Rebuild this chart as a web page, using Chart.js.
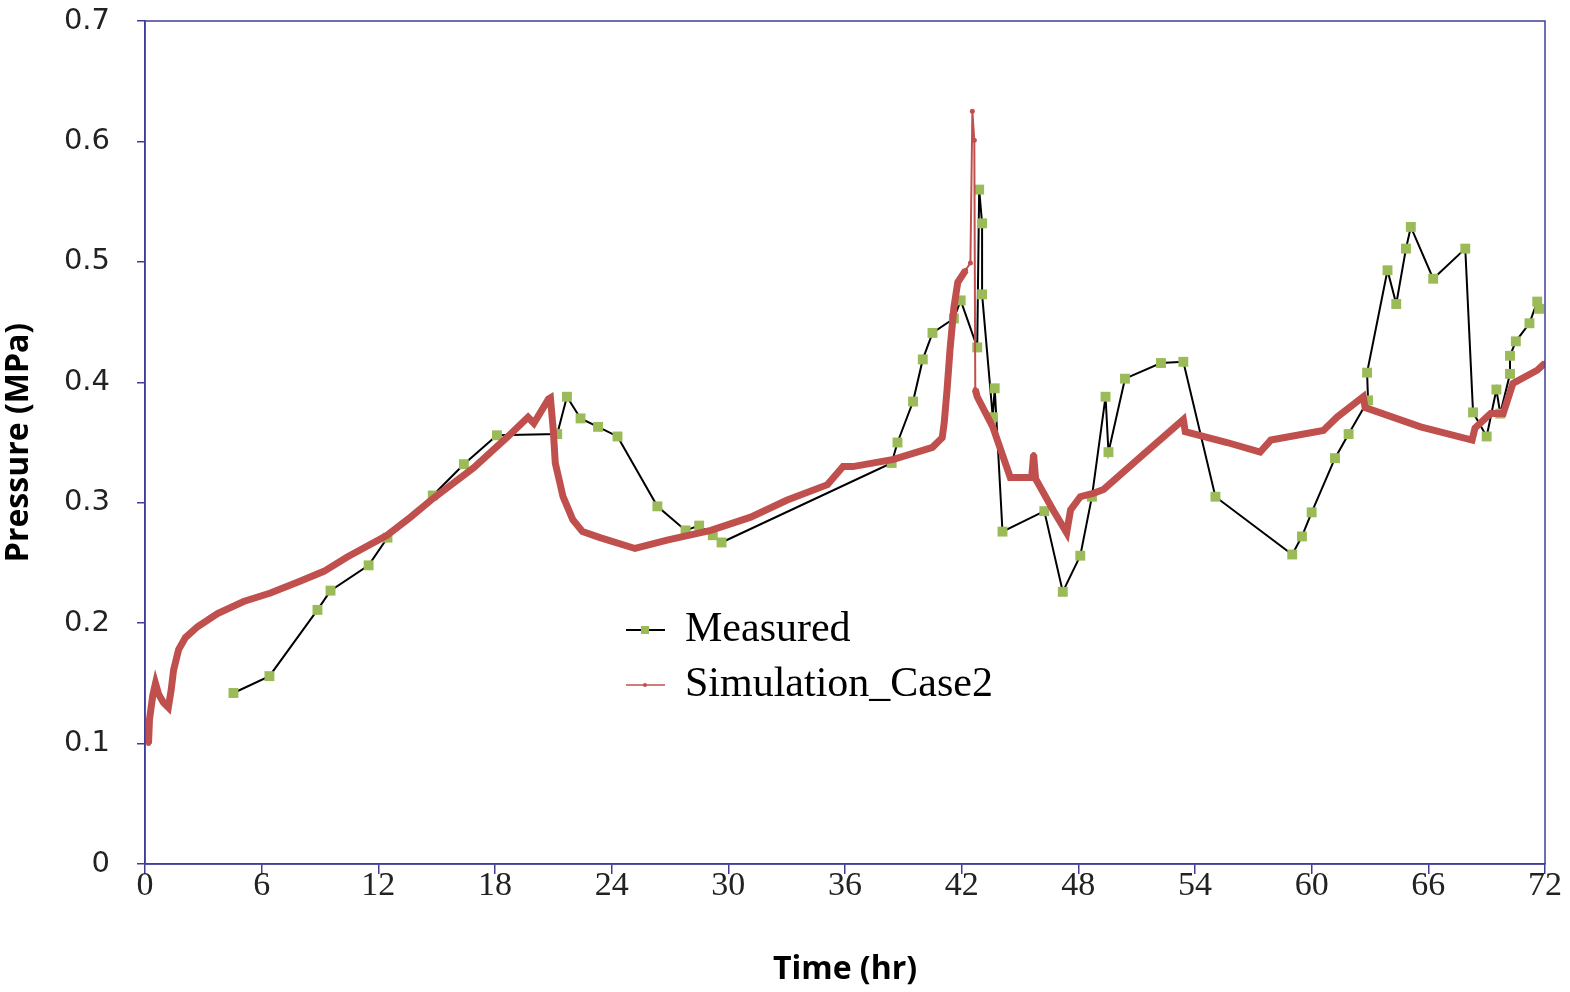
<!DOCTYPE html>
<html>
<head>
<meta charset="utf-8">
<script src="https://cdn.jsdelivr.net/npm/chart.js@4.4.1/dist/chart.umd.min.js"></script>
<style>
  html, body { margin: 0; padding: 0; background: #fff; }
</style>
</head>
<body>
<canvas id="myChart" width="1570" height="992"></canvas>
<script>
// Measured pressure (hr, MPa)
const measuredTime = [4.55, 6.4, 8.87, 9.54, 11.5, 12.47, 14.8, 16.4, 18.1, 21.2,
  21.7, 22.4, 23.3, 24.3, 26.35, 27.8, 28.5, 29.2, 29.65, 38.4,
  38.7, 39.5, 40.0, 40.5, 41.6, 41.95, 42.8, 42.9, 43.05, 43.05,
  43.6, 43.7, 44.1, 46.25, 47.2, 48.1, 48.7, 49.4, 49.55, 50.4,
  52.25, 53.4, 55.05, 59.0, 59.5, 60.0, 61.2, 61.9, 62.9, 62.85,
  63.9, 64.35, 64.85, 65.1, 66.25, 67.9, 68.3, 69.0, 69.5, 69.7,
  70.2, 70.2, 70.5, 71.2, 71.6, 71.7];
const measuredPressure = [0.142, 0.156, 0.211, 0.227, 0.248, 0.271, 0.306, 0.332, 0.356, 0.357,
  0.388, 0.370, 0.363, 0.355, 0.297, 0.277, 0.281, 0.273, 0.267, 0.333,
  0.350, 0.384, 0.419, 0.441, 0.453, 0.468, 0.429, 0.560, 0.532, 0.473,
  0.371, 0.395, 0.276, 0.293, 0.226, 0.256, 0.305, 0.388, 0.342, 0.403,
  0.416, 0.417, 0.305, 0.257, 0.272, 0.292, 0.337, 0.357, 0.385, 0.408,
  0.493, 0.465, 0.511, 0.529, 0.486, 0.511, 0.375, 0.355, 0.394, 0.374,
  0.407, 0.422, 0.434, 0.449, 0.467, 0.461];

// Simulation_Case2 (hr, MPa)
const simTime = [0.18, 0.23, 0.4, 0.54, 0.7, 0.95, 1.2, 1.35, 1.47, 1.73,
  2.08, 2.7, 3.73, 5.07, 6.45, 7.84, 9.2, 10.4, 12.45, 13.65,
  14.85, 16.9, 18.6, 19.7, 20.0, 20.75, 20.85, 21.0, 21.1, 21.5,
  22.0, 22.5, 23.4, 25.2, 26.85, 29.1, 31.15, 33.0, 35.1, 35.9,
  36.4, 38.5, 40.5, 41.0, 41.1, 41.25, 41.4, 41.6, 41.8, 42.2,
  42.45, 42.55, 42.65, 42.7, 42.8, 43.6, 44.5, 44.85, 45.6, 45.7,
  45.8, 46.7, 47.4, 47.6, 48.1, 48.8, 49.3, 51.2, 53.4, 53.5,
  55.65, 57.35, 57.9, 60.6, 61.3, 62.65, 62.75, 65.6, 68.25, 68.4,
  69.2, 69.85, 70.35, 71.6, 72];
const simPressure = [0.100, 0.120, 0.140, 0.150, 0.141, 0.134, 0.130, 0.145, 0.161, 0.178,
  0.188, 0.197, 0.208, 0.218, 0.225, 0.234, 0.243, 0.255, 0.273, 0.288,
  0.304, 0.329, 0.354, 0.371, 0.366, 0.386, 0.387, 0.360, 0.333, 0.305,
  0.286, 0.276, 0.271, 0.262, 0.269, 0.277, 0.288, 0.302, 0.315, 0.330,
  0.330, 0.336, 0.346, 0.354, 0.366, 0.394, 0.427, 0.462, 0.483, 0.493,
  0.499, 0.625, 0.601, 0.394, 0.388, 0.363, 0.321, 0.321, 0.321, 0.340,
  0.320, 0.294, 0.275, 0.294, 0.305, 0.308, 0.311, 0.338, 0.369, 0.359,
  0.350, 0.342, 0.352, 0.360, 0.371, 0.388, 0.379, 0.363, 0.352, 0.362,
  0.374, 0.374, 0.399, 0.410, 0.416];

const xTicks = [0, 6, 12, 18, 24, 30, 36, 42, 48, 54, 60, 66, 72];
const yTicks = [0, 0.1, 0.2, 0.3, 0.4, 0.5, 0.6, 0.7];

const axisColor = '#3f3f9a';
const measuredLine = '#000000';
const measuredMarker = '#9bbb59';
const simColor = '#c0504d';

const toPoints = (xs, ys) => xs.map((x, i) => ({ x: x, y: ys[i] }));

// frame round the plot area
const framePlugin = {
  id: 'frame',
  afterDraw(chart) {
    const { ctx, chartArea: a } = chart;
    ctx.save();
    ctx.strokeStyle = axisColor;
    ctx.lineWidth = 1.5;
    ctx.strokeRect(a.left, a.top, a.right - a.left, a.bottom - a.top);
    ctx.restore();
  },
};

// legend drawn inside the plot
const legendPlugin = {
  id: 'innerLegend',
  afterDraw(chart) {
    const ctx = chart.ctx;
    const rows = [
      { ds: chart.data.datasets[1], y: 630 },
      { ds: chart.data.datasets[0], y: 685 },
    ];
    ctx.save();
    rows.forEach((r) => {
      ctx.strokeStyle = r.ds.borderColor;
      ctx.lineWidth = r.ds.label === 'Measured' ? 2 : 1.5;
      ctx.beginPath();
      ctx.moveTo(626, r.y);
      ctx.lineTo(665, r.y);
      ctx.stroke();
      ctx.fillStyle = r.ds.pointBackgroundColor;
      if (r.ds.label === 'Measured') {
        ctx.fillRect(641, r.y - 4, 8, 8);
      } else {
        ctx.beginPath();
        ctx.arc(645, r.y, 2, 0, Math.PI * 2);
        ctx.fill();
      }
      ctx.fillStyle = '#000';
      ctx.font = '42px "Liberation Serif"';
      ctx.textBaseline = 'middle';
      ctx.fillText(r.ds.label, 685, r.y);
    });
    ctx.restore();
  },
};

// the sharp spike near 42 hr is drawn with a thin line
const spikeWidth = (c) => (c.p0.parsed.y > 0.495 || c.p1.parsed.y > 0.495 ? 2 : undefined);

const ctx = document.getElementById('myChart').getContext('2d');
const pressureChart = new Chart(ctx, {
  type: 'scatter',
  data: {
    datasets: [
      {
        label: 'Simulation_Case2',
        data: toPoints(simTime, simPressure),
        showLine: true,
        borderColor: simColor,
        borderWidth: 7,
        segment: { borderWidth: spikeWidth },
        pointRadius: 2.5,
        pointBackgroundColor: simColor,
        pointBorderWidth: 0,
        order: 1,
      },
      {
        label: 'Measured',
        data: toPoints(measuredTime, measuredPressure),
        showLine: true,
        borderColor: measuredLine,
        borderWidth: 2,
        pointStyle: 'rect',
        pointRadius: 7,
        pointBackgroundColor: measuredMarker,
        pointBorderWidth: 0,
        order: 2,
      },
    ],
  },
  options: {
    responsive: false,
    animation: false,
    layout: { padding: { left: 0, right: 25, top: 21, bottom: 0 } },
    plugins: {
      legend: { display: false },
      tooltip: { enabled: false },
    },
    scales: {
      x: {
        type: 'linear',
        min: 0,
        max: 72,
        afterBuildTicks: (scale) => { scale.ticks = xTicks.map((v) => ({ value: v })); },
        afterFit: (scale) => { scale.height = 128; },
        border: { color: axisColor, width: 1.5 },
        grid: { drawOnChartArea: false, drawTicks: true, tickLength: 10, color: axisColor, lineWidth: 1.5 },
        ticks: {
          color: '#222',
          padding: -5,
          font: { family: '"Liberation Serif"', size: 34, lineHeight: 1 },
        },
        title: {
          display: true,
          text: 'Time (hr)',
          color: '#000',
          padding: { top: 0, bottom: 3 },
          font: { family: '"Open Sans"', size: 32, weight: 'bold' },
        },
      },
      y: {
        type: 'linear',
        min: 0,
        max: 0.7,
        afterBuildTicks: (scale) => { scale.ticks = yTicks.map((v) => ({ value: v })); },
        afterFit: (scale) => {
          scale.width = 145;
          scale.paddingTop = 0;
          scale.paddingBottom = 0;
        },
        border: { color: axisColor, width: 1.5 },
        grid: { drawOnChartArea: false, drawTicks: true, tickLength: 8, color: axisColor, lineWidth: 1.5 },
        ticks: {
          color: '#222',
          padding: 27,
          font: { family: '"DejaVu Sans"', size: 29 },
          callback: (v) => (v === 0 ? '0' : v.toFixed(1)),
        },
        title: {
          display: true,
          text: 'Pressure (MPa)',
          color: '#000',
          padding: { top: 0, bottom: 14 },
          font: { family: '"Open Sans"', size: 32, weight: 'bold' },
        },
      },
    },
  },
  plugins: [framePlugin, legendPlugin],
});
</script>
</body>
</html>
